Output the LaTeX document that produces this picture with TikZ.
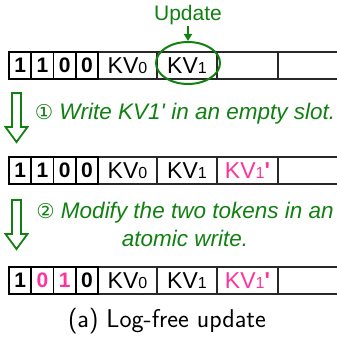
\documentclass[tikz,border=0pt]{standalone}
\usepackage{fontspec}
\newfontfamily\arial{Liberation Sans}
\newfontfamily\symfont{DejaVu Sans}
\usetikzlibrary{shapes.geometric,arrows.meta}
\definecolor{grn}{RGB}{16,128,16}
\definecolor{pnk}{RGB}{255,51,153}
\definecolor{cellline}{RGB}{40,40,40}
\newcommand{\kvsub}[1]{KV\raisebox{-0.5pt}{\fontsize{16}{16}\selectfont #1}}
\newcommand{\prm}{\textbf{\char"27}}
\tikzset{
  bitcell/.style={draw=black, line width=1.8pt, minimum width=22.25pt, minimum height=27pt,
    inner sep=0pt, font=\arial\bfseries\fontsize{21}{22}\selectfont},
  kvcell/.style={draw=cellline, line width=1.5pt, minimum height=27pt, inner sep=0pt,
    font=\arial\fontsize{23}{25}\selectfont},
  hollow/.style={draw=grn, line width=1.8pt, line join=miter},
  gtext/.style={text=grn, inner sep=0pt, font=\arial\fontsize{22.5}{25}\selectfont},
}
\begin{document}
\begin{tikzpicture}[x=1pt,y=-1pt]
\useasboundingbox (0,0) rectangle (337,337);

% ---- row cells
\foreach \r/\yy in {1/65.5, 2/170.5, 3/280.5}{
  \node[kvcell, minimum width=59pt] (r\r kv0) at (127.5,\yy) {\kvsub{0}};
  \node[kvcell, minimum width=60pt] (r\r kv1) at (187,\yy) {\kvsub{1}};
  \node[kvcell, minimum width=61pt] (r\r kv2) at (247.5,\yy) {};
  \node[kvcell, minimum width=62pt] (r\r kv3) at (309,\yy) {};
}
\node[bitcell] (r1b1) at (20.125,65.5) {1};
\node[bitcell] (r1b2) at (42.375,65.5) {1};
\node[bitcell] (r1b3) at (64.625,65.5) {0};
\node[bitcell] (r1b4) at (86.875,65.5) {0};

\node[bitcell] (r2b1) at (20.125,170.5) {1};
\node[bitcell] (r2b2) at (42.375,170.5) {1};
\node[bitcell] (r2b3) at (64.625,170.5) {0};
\node[bitcell] (r2b4) at (86.875,170.5) {0};

\node[bitcell] (r3b1) at (20.125,280.5) {1};
\node[bitcell, text=pnk] (r3b2) at (42.375,280.5) {0};
\node[bitcell, text=pnk] (r3b3) at (64.625,280.5) {1};
\node[bitcell] (r3b4) at (86.875,280.5) {0};

\node[kvcell, draw=none, text=pnk, anchor=center] (r2new) at (r2kv2) {\kvsub{1}\prm};
\node[kvcell, draw=none, text=pnk, anchor=center] (r3new) at (r3kv2) {\kvsub{1}\prm};

% ---- update marker
\node[ellipse, draw=grn, line width=2pt, minimum width=64pt, minimum height=42pt, inner sep=0pt] (ell) at (188,63) {};
\node[text=grn, inner sep=0pt, font=\arial\fontsize{21}{23}\selectfont, anchor=base] (upd) at (188,21) {Update};
\draw[grn, line width=2pt, -{Triangle[width=8pt,length=7pt]}] (upd.south) -- (ell.north);

% ---- step texts
\node[gtext, anchor=base] (t1) at (185,119) {{\symfont\fontsize{20.5}{24}\selectfont ①} \itshape Write KV1' in an empty slot.};
\node[gtext, anchor=base] (t2a) at (185,218) {{\symfont\fontsize{20.5}{24}\selectfont ②} \itshape Modify the two tokens in an};
\node[gtext, anchor=base] (t2b) at (185,246) {\itshape atomic write.};

% ---- hollow arrows
\draw[hollow] (12,93) -- (21,93) -- (21,127) -- (27.5,127) -- (16.5,142) -- (5.5,127) -- (12,127) -- cycle;
\draw[hollow] (12,200) -- (21,200) -- (21,234) -- (27.5,234) -- (16.5,249) -- (5.5,234) -- (12,234) -- cycle;

% ---- caption
\node[inner sep=0pt, font=\sffamily\fontsize{25.7}{28}\selectfont, anchor=base] (cap) at (167,327) {(a) Log-free update};
\end{tikzpicture}
\end{document}
